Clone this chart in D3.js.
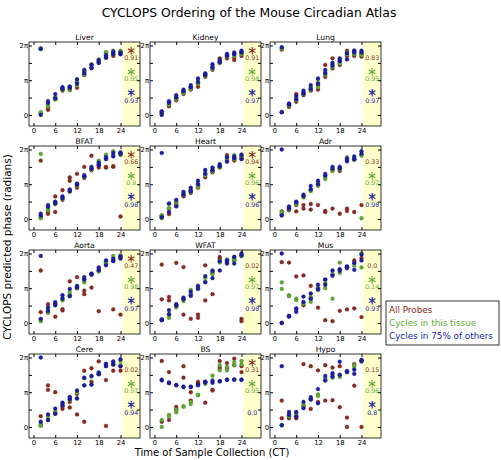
<!DOCTYPE html>
<html><head><meta charset="utf-8">
<script src="https://cdn.jsdelivr.net/npm/d3@7"></script>
<style>body{margin:0;background:#fff} text{font-family:"DejaVu Sans",sans-serif}</style>
</head><body><svg id="c" width="501" height="460"></svg>
<script>
// ---------- data (phases in units of π) ----------
const tissues = ["Liver","Kidney","Lung","BFAT","Heart","Adr","Aorta","WFAT","Mus","Cere","BS","Hypo"];
const sampleCT = [2,2,4,4,6,6,8,8,10,10,12,12,14,14,16,16,18,18,20,20,22,22,24,24];
const xTicks = [0,6,12,18,24];
const yTicks = [0,0.5,1,1.5,2];
const yTickLabels = ["0","","π","","2π"];

const liverAll    = [1.92,0.05,0.15,0.2,0.45,0.5,0.7,0.75,0.75,0.72,0.78,0.95,1.15,1.25,1.35,1.45,1.5,1.55,1.65,1.8,1.7,1.8,1.75,1.82];
const liverTissue = [1.9,0.08,0.25,0.3,0.45,0.5,0.72,0.78,0.72,0.8,0.85,0.95,1.15,1.25,1.38,1.42,1.55,1.6,1.7,1.8,1.75,1.85,1.8,1.85];
const liverOthers = [1.9,0.0,0.35,0.4,0.48,0.6,0.75,0.8,0.78,0.82,0.9,1.03,1.2,1.3,1.35,1.45,1.5,1.58,1.65,1.72,1.75,1.82,1.75,1.8];

const kidneyAll    = [0.05,0.1,0.25,0.3,0.42,0.48,0.6,0.65,0.73,0.78,0.81,0.9,1.1,1.15,1.3,1.38,1.63,1.5,1.63,1.7,1.58,1.65,1.7,1.78];
const kidneyTissue = [0.02,0.08,0.3,0.35,0.45,0.5,0.62,0.7,0.75,0.82,0.9,0.95,1.12,1.18,1.32,1.4,1.5,1.55,1.68,1.74,1.7,1.76,1.75,1.82];
const kidneyOthers = [0.0,0.1,0.35,0.4,0.5,0.57,0.68,0.73,0.8,0.86,0.95,1.05,1.15,1.2,1.36,1.46,1.52,1.58,1.7,1.76,1.75,1.8,1.8,1.85];

const lungAll    = [1.88,0.08,0.23,0.28,0.38,0.6,0.57,0.62,0.7,0.75,0.73,0.85,1.1,1.44,1.34,1.63,1.44,1.55,1.7,1.85,1.7,1.85,1.68,1.75];
const lungTissue = [1.9,0.08,0.27,0.3,0.42,0.5,0.6,0.66,0.72,0.8,0.8,0.95,1.15,1.25,1.38,1.45,1.48,1.6,1.75,1.8,1.75,1.8,1.72,1.8];
const lungOthers = [1.95,0.08,0.3,0.33,0.45,0.55,0.62,0.7,0.75,0.86,0.9,1.05,1.2,1.3,1.42,1.5,1.55,1.63,1.6,1.78,1.8,1.85,1.8,1.85];

const bfatAll    = [1.68,0.05,0.15,0.2,0.65,0.2,0.83,0.55,1.2,1.1,1.3,0.9,1.5,1.18,1.82,1.4,1.48,1.55,1.48,1.5,1.5,1.52,0.07,1.85];
const bfatTissue = [1.87,0.02,0.25,0.3,0.42,0.48,0.58,0.62,0.78,0.82,0.95,1.0,1.2,1.22,1.42,1.45,1.68,1.6,1.85,1.75,1.95,1.85,1.9,1.85];
const bfatOthers = [0.1,0.15,0.35,0.4,0.45,0.5,0.6,0.65,0.8,0.85,0.98,1.02,1.22,1.26,1.45,1.5,1.55,1.62,1.72,1.78,1.8,1.9,1.88,1.92];

const heartAll    = [0.05,0.1,0.14,0.3,0.38,0.45,0.65,0.7,0.75,0.82,0.9,0.95,1.2,1.3,1.34,1.4,1.48,1.52,1.84,1.7,1.68,1.75,1.75,1.8];
const heartTissue = [0.02,0.1,0.3,0.42,0.4,0.5,0.68,0.75,0.78,0.85,0.92,1.0,1.25,1.35,1.36,1.45,1.5,1.55,1.7,1.78,1.72,1.84,1.78,1.85];
const heartOthers = [1.9,0.05,0.2,0.45,0.36,0.55,0.7,0.78,0.8,0.9,1.0,1.1,1.3,1.41,1.4,1.48,1.52,1.58,1.65,1.78,1.75,1.8,1.72,1.85];

const adrAll    = [0.22,0.12,0.25,0.3,0.22,0.4,0.3,0.4,0.27,0.43,0.4,1.0,0.2,0.23,0.3,1.4,0.15,1.38,0.23,0.3,0.2,1.72,0.4,1.85];
const adrTissue = [0.15,0.2,0.26,0.33,0.42,0.45,0.62,0.65,0.8,0.85,0.95,1.05,1.15,1.22,1.38,1.42,1.42,1.46,1.7,1.78,1.7,1.75,0.02,1.82];
const adrOthers = [2.0,0.1,0.3,0.36,0.48,0.5,0.66,0.7,0.85,0.95,1.0,1.1,1.25,1.3,1.45,1.5,1.45,1.5,1.66,1.74,1.72,1.8,1.88,1.95];

const aortaAll    = [1.51,0.31,0.54,0.3,0.18,0.55,0.4,0.36,1.2,0.8,1.32,1.0,0.93,0.83,1.02,1.4,0.34,1.5,1.78,1.7,0.39,1.8,0.24,1.88];
const aortaTissue = [0.05,0.1,0.3,0.4,0.5,0.55,0.65,0.72,0.78,0.88,1.0,1.05,1.17,1.25,1.38,1.42,1.48,1.55,1.7,1.75,1.85,1.93,1.9,1.95];
const aortaOthers = [1.93,0.12,0.35,0.45,0.52,0.6,0.7,0.8,0.77,0.98,1.02,1.07,1.25,1.32,1.4,1.42,1.52,1.6,1.66,1.8,1.78,1.85,1.85,1.92];

const wfatAll    = [1.68,0.68,0.75,0.65,1.73,0.5,1.61,0.24,0.12,0.8,0.24,0.15,1.66,0.65,0.83,1.45,1.9,1.85,1.8,1.75,1.9,1.8,0.12,0.05];
const wfatTissue = [0.08,0.1,0.15,0.25,0.45,0.5,0.63,0.7,0.85,0.95,1.0,1.05,1.2,1.3,1.4,1.51,1.74,1.8,1.76,1.83,1.8,1.85,1.92,1.95];
const wfatOthers = [0.08,0.1,0.25,0.37,0.5,0.54,0.68,0.73,0.78,0.9,0.98,1.07,1.17,1.35,1.29,1.5,1.51,1.78,1.71,1.8,1.71,1.9,1.95,2.0];

const musAll    = [1.75,0.0,1.74,0.2,1.34,0.4,1.37,0.51,1.07,0.7,0.44,1.0,1.25,0.08,0.05,1.4,1.53,0.35,0.39,1.6,1.8,0.42,0.17,1.87];
const musTissue = [1.17,0.98,0.8,0.77,0.7,0.66,0.55,0.6,0.61,0.75,1.0,0.95,1.0,1.15,0.7,1.4,1.74,1.44,1.6,1.62,1.73,1.65,2.0,1.6];
const musOthers = [2.0,0.0,0.2,0.18,0.42,0.32,0.76,0.6,0.85,0.7,1.1,0.97,1.25,1.1,1.51,1.36,1.55,1.5,1.63,1.58,1.73,1.53,1.8,1.97];

const cereAll    = [0.31,0.05,1.2,1.07,1.0,0.4,0.58,0.52,0.72,0.56,0.36,0.95,1.62,0.15,1.69,1.3,1.89,1.52,1.35,0.03,1.62,1.8,1.62,1.75];
const cereTissue = [0.03,0.1,0.2,0.3,0.38,0.45,0.62,0.68,0.78,0.86,0.82,0.98,1.2,1.4,1.22,1.45,1.52,1.55,1.75,1.8,1.8,1.85,1.78,1.9];
const cereOthers = [2.0,0.15,0.2,0.36,0.38,0.53,0.62,0.7,0.8,0.86,0.82,1.05,1.2,1.42,1.22,1.47,1.52,1.57,1.75,1.82,1.8,1.89,1.75,1.95];

const bsAll    = [1.9,0.15,1.58,0.2,0.5,0.58,1.75,1.42,1.0,0.76,1.3,1.25,0.7,1.3,1.07,1.05,1.9,1.7,1.84,1.7,1.97,1.78,1.75,1.58];
const bsTissue = [0.0,0.2,0.35,0.3,0.42,0.5,0.58,0.6,0.66,0.72,0.92,0.92,1.24,1.3,1.48,1.35,1.63,1.78,1.63,1.73,1.78,1.87,1.9,1.8];
const bsOthers = [1.34,1.36,1.26,1.28,1.21,1.2,1.15,1.16,1.15,1.16,1.2,1.22,1.28,1.3,1.27,1.32,1.31,1.32,1.36,1.36,1.36,1.37,1.36,1.36];

const hypoAll    = [0.76,0.25,0.3,0.25,0.3,0.25,1.81,0.6,1.75,0.52,1.63,0.72,1.78,0.76,1.71,0.77,1.75,0.57,0.27,0.0,1.81,1.19,0.0,1.9];
const hypoTissue = [0.05,0.05,0.3,0.35,0.35,0.4,0.6,0.65,0.79,0.82,0.94,0.89,1.34,1.4,1.42,1.5,1.44,1.5,1.58,1.61,1.73,1.78,1.88,1.92];
const hypoOthers = [1.75,0.05,0.35,0.43,0.3,0.43,0.54,0.72,0.79,0.86,1.09,0.68,1.34,1.47,1.45,1.55,1.88,1.5,1.58,1.61,1.53,1.65,1.9,1.93];

const allProbes   = [liverAll,kidneyAll,lungAll,bfatAll,heartAll,adrAll,aortaAll,wfatAll,musAll,cereAll,bsAll,hypoAll];
const inTissue    = [liverTissue,kidneyTissue,lungTissue,bfatTissue,heartTissue,adrTissue,aortaTissue,wfatTissue,musTissue,cereTissue,bsTissue,hypoTissue];
const inOthers    = [liverOthers,kidneyOthers,lungOthers,bfatOthers,heartOthers,adrOthers,aortaOthers,wfatOthers,musOthers,cereOthers,bsOthers,hypoOthers];

const scoreAll    = ["0.91","0.91","0.83","0.66","0.94","0.33","0.47","0.02","0.0","0.02","0.31","0.15"];
const scoreTissue = ["0.95","0.98","0.95","0.9","0.96","0.97","0.98","0.97","0.14","0.97","0.95","0.96"];
const scoreOthers = ["0.93","0.97","0.97","0.98","0.96","0.98","0.97","0.98","0.93","0.94","0.0","0.8"];
const starAll     = [1,1,0,1,1,0,1,0,0,0,1,0];
const starTissue  = [1,1,1,1,1,1,1,1,1,1,1,1];
const starOthers  = [1,1,1,1,1,1,1,1,1,1,0,1];

const seriesNames = ["All Probes","Cycles in this tissue","Cycles in 75% of others"];
const colors = ["#8b2a22","#62ad35","#1c1ca8"];

// ---------- layout ----------
const svg = d3.select("#c");
const W = 111, H = 84;
const colLeft = [29, 150, 270];
const rowTop = [42, 146, 250, 354];

const x = d3.scaleLinear().domain([-1.24, 29.38]).range([0, W]);
const y = d3.scaleLinear().domain([-1/Math.PI, 6.6/Math.PI]).range([H, 0]);
const star = d3.symbol().type(d3.symbolAsterisk).size(40);

svg.append("text").attr("x", 249).attr("y", 17).attr("text-anchor","middle")
  .attr("font-size", 12.4).text("CYCLOPS Ordering of the Mouse Circadian Atlas");
svg.append("text").attr("transform","translate(11,247) rotate(-90)").attr("text-anchor","middle")
  .attr("font-size", 10.5).text("CYCLOPS predicted phase (radians)");
svg.append("text").attr("x", 212).attr("y", 456).attr("text-anchor","middle")
  .attr("font-size", 10).text("Time of Sample Collection (CT)");

tissues.forEach((name, i) => {
  const r = Math.floor(i/3), c = i%3;
  const g = svg.append("g").attr("transform", `translate(${colLeft[c]},${rowTop[r]})`);
  // yellow span
  g.append("rect").attr("x", x(24.5)).attr("y", 0).attr("width", W - x(24.5)).attr("height", H)
    .attr("fill", "#ffffcc");
  // points
  [allProbes[i], inTissue[i], inOthers[i]].forEach((vals, s) => {
    g.append("g").selectAll("circle").data(vals).join("circle")
      .attr("cx", (d,k) => x(sampleCT[k])).attr("cy", d => y(d)).attr("r", 1.9)
      .attr("fill", colors[s]).attr("stroke", d3.color(colors[s]).darker(0.8)).attr("stroke-width", 0.4);
  });
  // scores
  const stars = [starAll[i], starTissue[i], starOthers[i]];
  const scores = [scoreAll[i], scoreTissue[i], scoreOthers[i]];
  const starY = [1.85, 1.24, 0.64];
  const numY = [1.64, 1.03, 0.41];
  const cx = (x(24.5) + W) / 2;
  for (let s = 0; s < 3; s++) {
    if (stars[s]) g.append("path").attr("d", star())
      .attr("transform", `translate(${cx},${y(starY[s])})`)
      .attr("fill", "none").attr("stroke", colors[s]).attr("stroke-width", 1.1);
    g.append("text").attr("x", cx).attr("y", y(numY[s]) + 2.3).attr("text-anchor","middle")
      .attr("font-size", 6.3).attr("fill", colors[s]).text(scores[s]);
  }
  // frame
  g.append("rect").attr("width", W).attr("height", H).attr("fill","none").attr("stroke","#000").attr("stroke-width",0.8);
  // axes (ticks inward on all four sides)
  const ax = g.append("g").attr("transform", `translate(0,${H})`)
    .call(d3.axisBottom(x).tickValues(xTicks).tickSize(-3).tickPadding(2));
  const ay = g.append("g")
    .call(d3.axisLeft(y).tickValues(yTicks).tickFormat((d,k)=>yTickLabels[k]).tickSize(-3).tickPadding(1));
  const axT = g.append("g").call(d3.axisTop(x).tickValues(xTicks).tickSize(-3).tickFormat(""));
  const ayR = g.append("g").attr("transform", `translate(${W},0)`)
    .call(d3.axisRight(y).tickValues(yTicks).tickSize(-3).tickFormat(""));
  [ax, ay, axT, ayR].forEach(a => { a.select(".domain").remove(); a.selectAll("text").attr("font-size", 6.8).attr("font-family","DejaVu Sans"); });
  g.append("text").attr("x", W/2).attr("y", -2.5).attr("text-anchor","middle").attr("font-size", 7.6).text(name);
});

// legend
const lg = svg.append("g").attr("transform","translate(386,301)");
lg.append("rect").attr("width", 113).attr("height", 44).attr("fill","#fff").attr("stroke","#000").attr("stroke-width",0.8);
seriesNames.forEach((n, s) => {
  lg.append("text").attr("x", 3).attr("y", 12 + s*13).attr("font-size", 8.8).attr("fill", colors[s]).text(n);
});
</script></body></html>
